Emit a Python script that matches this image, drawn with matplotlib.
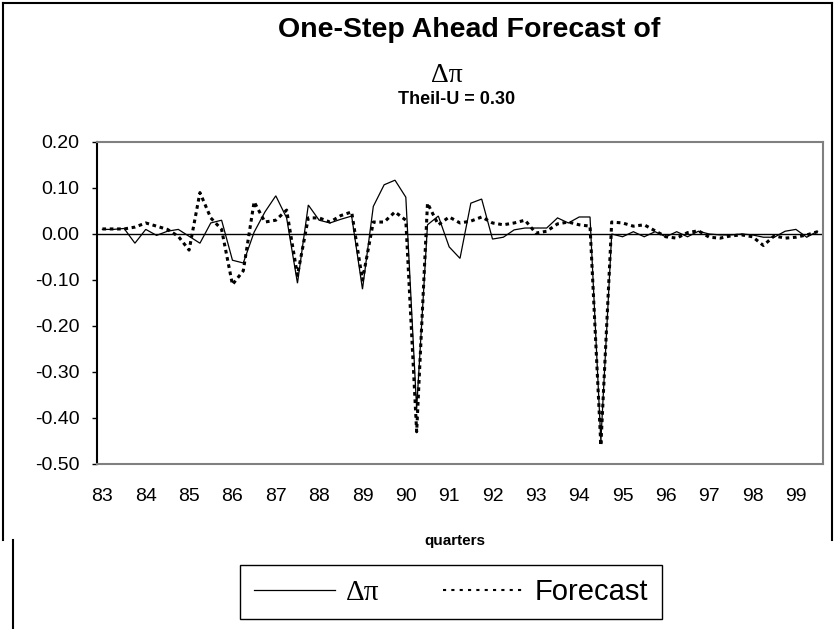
import matplotlib
matplotlib.use("Agg")
import matplotlib.pyplot as plt
from matplotlib.lines import Line2D
import numpy as np

# ---- data ----
start_year = 83
actual = [0.010, 0.010, 0.012, -0.020, 0.010, -0.003, 0.006, 0.010, -0.005, -0.020,
          0.024, 0.030, -0.057, -0.063, 0.004, 0.048, 0.083, 0.035, -0.107, 0.063,
          0.030, 0.024, 0.032, 0.039, -0.120, 0.060, 0.107, 0.117, 0.080, -0.380,
          0.020, 0.039, -0.028, -0.053, 0.067, 0.076, -0.011, -0.007, 0.009, 0.013,
          0.013, 0.013, 0.035, 0.024, 0.037, 0.037, -0.450, 0.000, -0.006, 0.005,
          -0.006, 0.005, -0.006, 0.005, -0.006, 0.006, 0.000, -0.002, -0.002, 0.000,
          -0.002, -0.007, -0.007, 0.006, 0.010, -0.007, 0.006]
forecast = [0.011, 0.011, 0.011, 0.015, 0.024, 0.017, 0.010, -0.005, -0.035, 0.090,
            0.035, 0.010, -0.110, -0.080, 0.070, 0.026, 0.030, 0.052, -0.090, 0.035,
            0.035, 0.026, 0.040, 0.048, -0.100, 0.026, 0.026, 0.048, 0.030, -0.430,
            0.067, 0.020, 0.037, 0.024, 0.028, 0.037, 0.024, 0.020, 0.024, 0.030,
            0.002, 0.006, 0.022, 0.026, 0.020, 0.017, -0.460, 0.026, 0.024, 0.017,
            0.020, 0.007, -0.006, -0.009, 0.003, 0.007, -0.007, -0.009, -0.004, -0.002,
            -0.006, -0.025, -0.004, -0.009, -0.007, -0.002, 0.005]
year_labels = [str(y) for y in range(83, 100)]
y_ticks = [-0.5, -0.4, -0.3, -0.2, -0.1, 0.0, 0.1, 0.2]

n = len(actual)
x = start_year + np.arange(n) / 4.0

W, H = 838, 629
fig = plt.figure(figsize=(W / 100, H / 100), dpi=100)
ax = fig.add_axes([97 / W, 1 - 464 / H, (823 - 97) / W, (464 - 142) / H])

sans = ["Liberation Sans", "DejaVu Sans"]
serif = ["Liberation Serif", "DejaVu Serif"]

ax.plot(x, actual, color="black", lw=0.9, solid_joinstyle="miter", label="Δπ")
ax.plot(x, forecast, color="black", lw=2.2, linestyle=(0, (1.2, 1.2)),
        dash_capstyle="butt", label="Forecast")
ax.axhline(0, color="black", lw=1.0, zorder=1)

ax.set_xlim(start_year - 0.125, start_year + n / 4.0 - 0.125)
ax.set_ylim(-0.5, 0.2)
ax.set_yticks(y_ticks)
ax.set_yticklabels(["%.2f" % v for v in y_ticks], fontfamily=sans, fontsize=14)
ax.set_xticks(range(83, 100))
ax.set_xticklabels(year_labels, fontfamily=sans, fontsize=14)
ax.tick_params(axis="x", length=0, pad=17)
ax.tick_params(axis="y", length=3.6, width=1, direction="out", pad=9)

for s in ["top", "right", "bottom"]:
    ax.spines[s].set_color("#808080")
    ax.spines[s].set_linewidth(1.5)
ax.spines["left"].set_color("black")
ax.spines["left"].set_linewidth(1.5)

fig.text(469 / W, 1 - 30 / H, "One-Step Ahead Forecast of", ha="center", va="center",
         fontfamily=sans, fontweight="bold", fontsize=20.5)
fig.text(447 / W, 1 - 76 / H, "Δπ", ha="center", va="center",
         fontfamily=serif, fontsize=20)
fig.text(457 / W, 1 - 99 / H, "Theil-U = 0.30", ha="center", va="center",
         fontfamily=sans, fontweight="bold", fontsize=13)
fig.text(455 / W, 1 - 541 / H, "quarters", ha="center", va="center",
         fontfamily=sans, fontweight="bold", fontsize=11)

leg = fig.legend(loc="center", bbox_to_anchor=(451 / W, 1 - 592 / H), ncol=2,
                 frameon=True, fancybox=False, edgecolor="black", framealpha=1,
                 prop={"family": sans, "size": 21}, handlelength=2.8,
                 columnspacing=2.2, handletextpad=0.35, borderpad=0.45,
                 borderaxespad=0)
leg.get_frame().set_linewidth(1.0)
leg.get_texts()[0].set_fontfamily(serif)
leg.get_lines()[1].set_linewidth(1.5)
leg.get_lines()[1].set_linestyle((0, (1.5, 2.5)))
leg.get_lines()[0].set_linewidth(0.9)

# outer frame lines
fig.add_artist(Line2D([3 / W, 832 / W], [1 - 3 / H, 1 - 3 / H], color="black", lw=1.5))
fig.add_artist(Line2D([3 / W, 3 / W], [1 - 3 / H, 1 - 540 / H], color="black", lw=1.5))
fig.add_artist(Line2D([832 / W, 832 / W], [1 - 3 / H, 1 - 540 / H], color="black", lw=1.5))
fig.add_artist(Line2D([13 / W, 13 / W], [1 - 540 / H, 0], color="black", lw=1.5))

fig.savefig("out.png", dpi=100)
